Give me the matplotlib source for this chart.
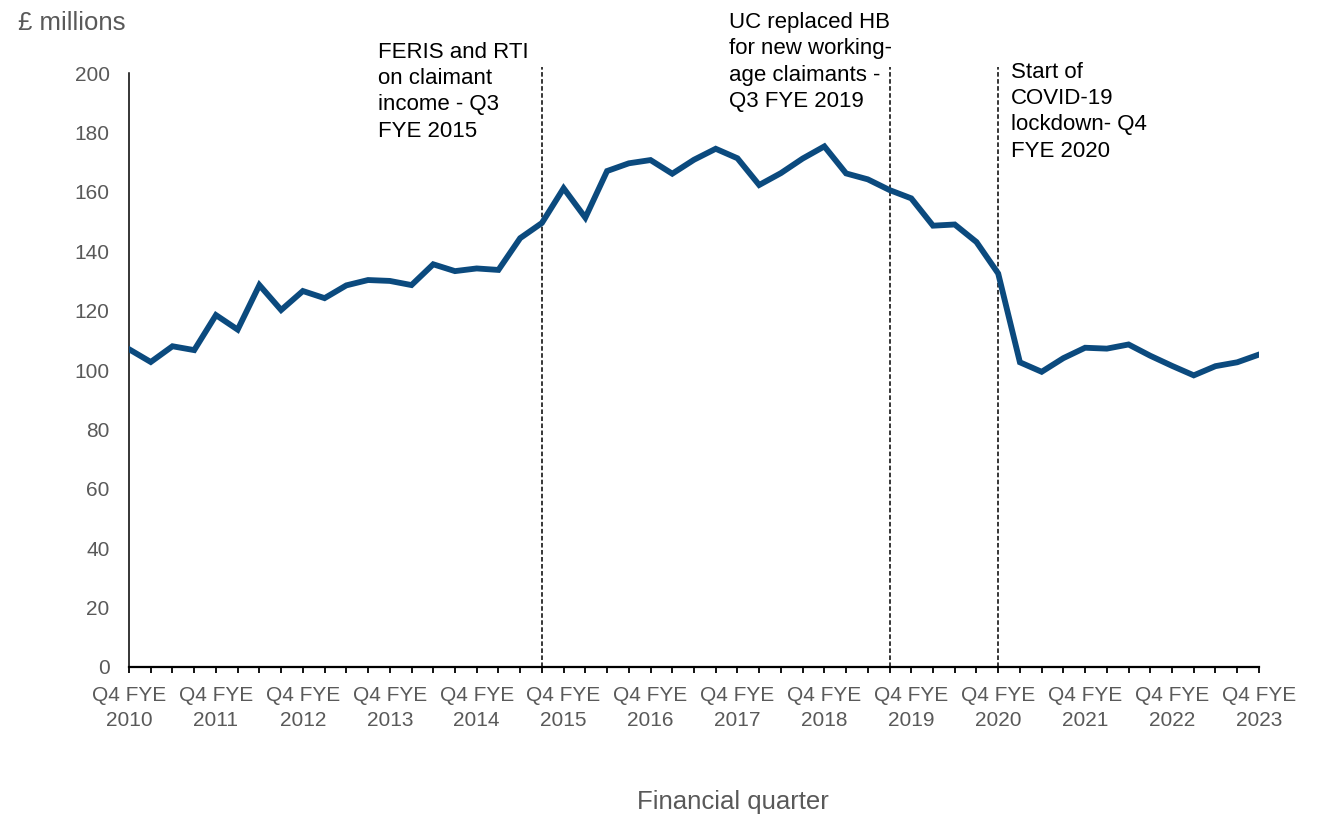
import numpy as np
import matplotlib.pyplot as plt

plt.rcParams['font.family'] = ['Liberation Sans', 'DejaVu Sans']

# ----------------- data -----------------
# quarterly values, Q4 FYE 2010 .. Q4 FYE 2023 (53 quarters)
amount = [107, 102.7, 108, 106.7, 118.5, 113.6, 128.6, 120.2, 126.6, 124.2,
          128.5, 130.3, 130, 128.6, 135.6, 133.3, 134.2, 133.7, 144.4, 149.5,
          161.2, 151.3, 167, 169.6, 170.7, 166.1, 170.8, 174.5, 171.3, 162.3,
          166.3, 171.2, 175.3, 166.2, 164.2, 160.6, 157.8, 148.6, 149, 143.1,
          132.5, 102.6, 99.4, 104, 107.5, 107.2, 108.6, 104.8, 101.4, 98.2,
          101.3, 102.6, 105.2]
years = [2010, 2011, 2012, 2013, 2014, 2015, 2016, 2017, 2018, 2019, 2020, 2021, 2022, 2023]
year_labels = ['Q4 FYE\n%d' % y for y in years]
y_ticks = [0, 20, 40, 60, 80, 100, 120, 140, 160, 180, 200]

# events: quarter index of the dashed line and its label
event_idx = [19, 35, 40]
event_text = ['FERIS and RTI\non claimant\nincome - Q3\nFYE 2015',
              'UC replaced HB\nfor new working-\nage claimants -\nQ3 FYE 2019',
              'Start of\nCOVID-19\nlockdown- Q4\nFYE 2020']

# ----------------- plot -----------------
fig = plt.figure(figsize=(13.22, 8.16), dpi=100)
ax = fig.add_axes([0.0976, 0.1826, 0.8547, 0.7279])

x = np.arange(len(amount))
ax.plot(x, amount, color='#0b4a7e', lw=4.2, solid_joinstyle='miter', zorder=3)

ax.set_xlim(0, len(amount) - 1)
ax.set_ylim(0, 200)

for i in event_idx:
    ax.plot([i, i], [0, 202], color='black', lw=1.1, ls=(0, (3, 1.6)),
            clip_on=False, zorder=2)

text_pos = [(11.45, 210.5), (27.6, 220.5), (40.6, 203.8)]
for (tx, ty), t in zip(text_pos, event_text):
    ax.text(tx, ty, t, fontsize=16, color='black', va='top', ha='left',
            linespacing=1.33, clip_on=False)

ax.set_xticks(np.arange(0, len(amount), 4))
ax.set_xticklabels(year_labels, fontsize=15, color='#595959', linespacing=1.45)
ax.set_xticks(np.arange(len(amount)), minor=True)
ax.tick_params(axis='x', which='both', direction='out', length=4.5, width=1.3,
               color='black', pad=9)

ax.set_yticks(y_ticks)
ax.set_yticklabels([str(v) for v in y_ticks], fontsize=15, color='#595959')
ax.tick_params(axis='y', length=0, pad=14)

for s in ['top', 'right']:
    ax.spines[s].set_visible(False)
ax.spines['left'].set_linewidth(1.1)
ax.spines['bottom'].set_linewidth(1.6)

fig.text(0.0136, 0.987, '£ millions', fontsize=18.5, color='#595959', va='top', ha='left')
fig.text(0.5545, 0.017, 'Financial quarter', fontsize=18.5, color='#595959',
         va='center', ha='center')

plt.savefig('out.png')
